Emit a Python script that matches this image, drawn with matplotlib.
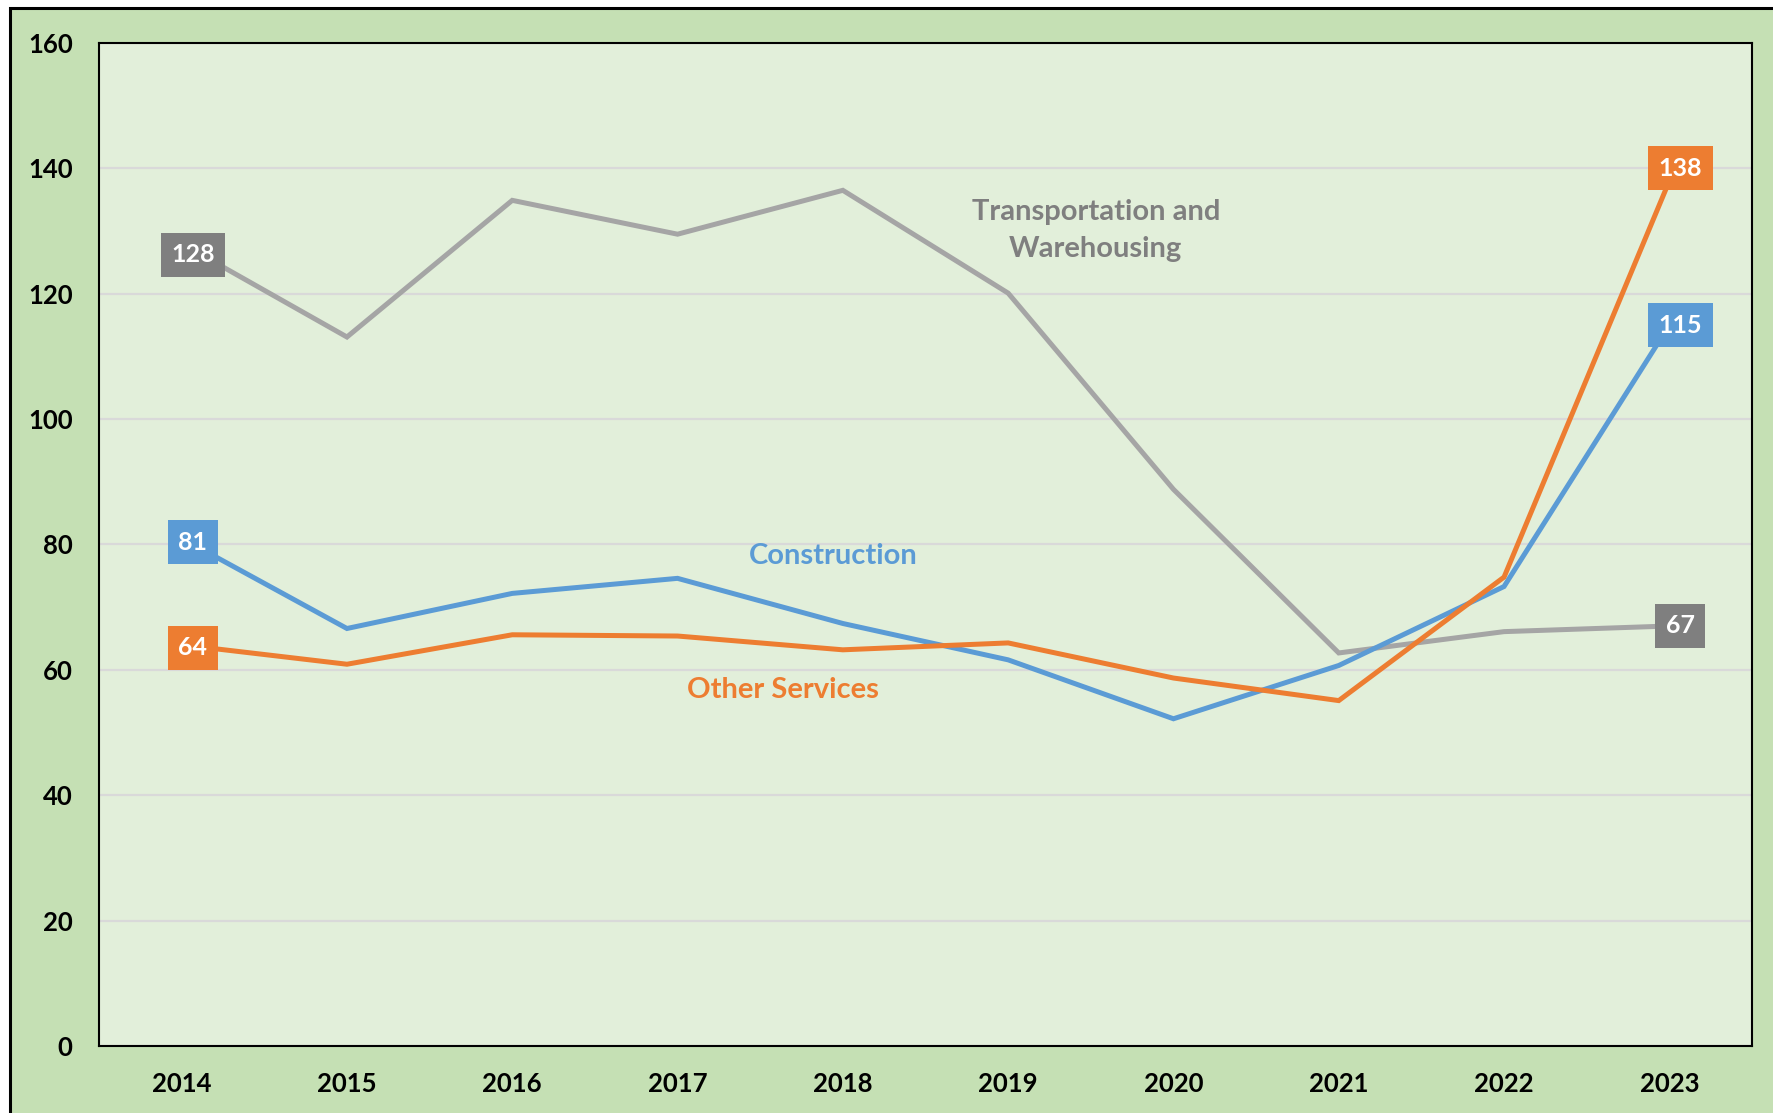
import matplotlib
matplotlib.use("Agg")
import matplotlib.pyplot as plt
from matplotlib.patches import Rectangle

# values
years = [2014, 2015, 2016, 2017, 2018, 2019, 2020, 2021, 2022, 2023]
transport = [128, 113.1, 134.9, 129.5, 136.5, 120.1, 88.8, 62.7, 66.1, 67]
construction = [81, 66.6, 72.2, 74.6, 67.4, 61.6, 52.2, 60.7, 73.3, 115]
other_services = [64, 60.9, 65.6, 65.4, 63.2, 64.3, 58.7, 55.1, 74.8, 138]

GRAY, BLUE, ORANGE = "#A5A5A5", "#5B9BD5", "#ED7D31"
BOX_GRAY = "#7F7F7F"
OUTER, INNER = "#C5E0B4", "#E2EFDA"

plt.rcParams["font.family"] = ["Lato", "DejaVu Sans"]
plt.rcParams["font.weight"] = "bold"

W, H = 1773, 1113
fig = plt.figure(figsize=(W / 100, H / 100), dpi=100, facecolor="white")
# cropped outer chart frame (top and left border visible only)
fig.patches.append(Rectangle((10 / W, -0.1), 1.2, (H - 8) / H + 0.1,
                             transform=fig.transFigure, facecolor=OUTER,
                             edgecolor="black", linewidth=2.2, zorder=-10))

ax = fig.add_axes([99 / W, 1 - 1046 / H, (1752 - 99) / W, (1046 - 43) / H])
ax.set_zorder(1)
ax.set_facecolor(INNER)
x = list(range(len(years)))

ax.plot(x, transport, color=GRAY, lw=3.6, zorder=3, solid_joinstyle="miter")
ax.plot(x, construction, color=BLUE, lw=3.6, zorder=3, solid_joinstyle="miter")
ax.plot(x, other_services, color=ORANGE, lw=3.6, zorder=3, solid_joinstyle="miter")

ax.set_xlim(-0.5, len(years) - 0.5)
ax.set_ylim(0, 160)
ax.set_yticks(range(0, 161, 20))
ax.set_xticks(x)
ax.set_xticklabels([str(y) for y in years])
ax.tick_params(axis="both", length=0, labelsize=18.5, colors="black")
ax.tick_params(axis="y", pad=19)
ax.tick_params(axis="x", pad=19)
for lab in ax.get_xticklabels() + ax.get_yticklabels():
    lab.set_fontweight("bold")
ax.yaxis.grid(True, color="#D9D9D9", lw=1.6)
ax.set_axisbelow(True)
for s in ax.spines.values():
    s.set_color("black")
    s.set_linewidth(1.5)


def label(ax, xi, val, color, dy=0):
    # value box, slightly right of the point, like the Excel data labels
    ax.annotate(f"{val:.0f}", (xi, val), xytext=(8, dy), textcoords="offset points",
                ha="center", va="center", fontsize=18, fontweight="bold", color="white",
                zorder=5,
                bbox=dict(boxstyle="square,pad=0.42", facecolor=color, edgecolor="none"))


label(ax, 0, transport[0], BOX_GRAY, dy=-8)
label(ax, 9, transport[-1], BOX_GRAY)
label(ax, 0, construction[0], BLUE, dy=-3)
label(ax, 9, construction[-1], BLUE)
label(ax, 0, other_services[0], ORANGE, dy=-2)
label(ax, 9, other_services[-1], ORANGE, dy=9)

ax.text(5.53, 130.1, "Transportation and\nWarehousing", ha="center", va="center",
        fontsize=21, fontweight="bold", color=BOX_GRAY, linespacing=1.55)
ax.text(3.94, 78.1, "Construction", ha="center", va="center",
        fontsize=21, fontweight="bold", color=BLUE)
ax.text(3.64, 56.8, "Other Services", ha="center", va="center",
        fontsize=21, fontweight="bold", color=ORANGE)

fig.savefig("out.png", dpi=100, facecolor="white")
